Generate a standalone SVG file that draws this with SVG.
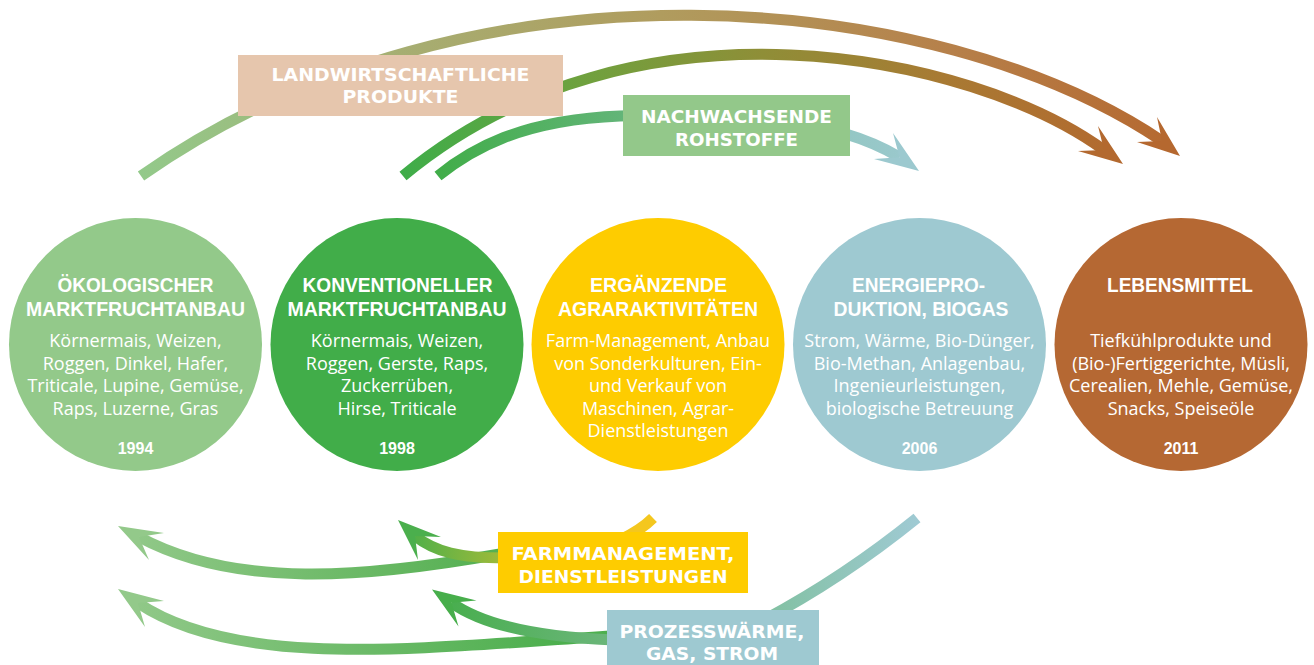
<svg xmlns="http://www.w3.org/2000/svg" width="1314" height="665" viewBox="0 0 1314 665">
<defs>
<style>
.title{font-family:"Liberation Sans",Arial,sans-serif;font-weight:bold;font-size:20.5px;fill:#fff;text-anchor:middle}
.body{font-family:"Open Sans","Noto Sans",sans-serif;font-size:18px;fill:#fff;text-anchor:middle}
.year{font-family:"Liberation Sans",Arial,sans-serif;font-weight:bold;font-size:16px;fill:#fff;text-anchor:middle}
.lbl{font-family:"DejaVu Sans",sans-serif;font-weight:bold;font-size:17.5px;fill:#fff;text-anchor:middle}
.arc{fill:none;stroke-width:11;stroke-linecap:butt}
</style>
<linearGradient id="g1" gradientUnits="userSpaceOnUse" x1="141" y1="0" x2="1180" y2="0">
<stop offset="0" stop-color="#93C98A"/><stop offset="0.25" stop-color="#A6AE72"/><stop offset="0.5" stop-color="#B09C5E"/><stop offset="0.78" stop-color="#B6804A"/><stop offset="1" stop-color="#B5682F"/>
</linearGradient>
<linearGradient id="g2" gradientUnits="userSpaceOnUse" x1="403" y1="0" x2="1123" y2="0">
<stop offset="0" stop-color="#3FAD49"/><stop offset="0.25" stop-color="#6FA13E"/><stop offset="0.5" stop-color="#8F8E37"/><stop offset="0.75" stop-color="#A87A33"/><stop offset="1" stop-color="#B3692F"/>
</linearGradient>
<linearGradient id="g3" gradientUnits="userSpaceOnUse" x1="438" y1="0" x2="919" y2="0">
<stop offset="0" stop-color="#41AD49"/><stop offset="0.4" stop-color="#64B57A"/><stop offset="0.85" stop-color="#94C7C4"/><stop offset="1" stop-color="#9CC9CF"/>
</linearGradient>
<linearGradient id="gA" gradientUnits="userSpaceOnUse" x1="118" y1="0" x2="490" y2="0">
<stop offset="0" stop-color="#93C98A"/><stop offset="1" stop-color="#55B052"/>
</linearGradient>
<linearGradient id="gB" gradientUnits="userSpaceOnUse" x1="400" y1="0" x2="500" y2="0">
<stop offset="0" stop-color="#46AE4B"/><stop offset="1" stop-color="#9DBA3A"/>
</linearGradient>
<linearGradient id="gC" gradientUnits="userSpaceOnUse" x1="118" y1="0" x2="560" y2="0">
<stop offset="0" stop-color="#93C98A"/><stop offset="1" stop-color="#4DAF4E"/>
</linearGradient>
<linearGradient id="gD" gradientUnits="userSpaceOnUse" x1="432" y1="0" x2="610" y2="0">
<stop offset="0" stop-color="#45AD4A"/><stop offset="1" stop-color="#6BB67A"/>
</linearGradient>
<linearGradient id="gT" gradientUnits="userSpaceOnUse" x1="760" y1="0" x2="917" y2="0">
<stop offset="0" stop-color="#80C09F"/><stop offset="1" stop-color="#9FCAD3"/>
</linearGradient>
</defs>
<rect width="1314" height="665" fill="#fff"/>

<g id="connectors">
<path class="arc" stroke="url(#g1)" d="M141,176 C471,-55 938,-10 1162,141"/>
<polygon fill="#B5682F" points="1180,156 1157,117 1162,141 1137,142"/>
<path class="arc" stroke="url(#g2)" d="M403,176 C634,-16 972,54 1104,150"/>
<polygon fill="#B3692F" points="1123,164 1098,126 1104,150 1078,151"/>
<path class="arc" stroke="url(#g3)" d="M438,176 C470,150 520,120 620,116 C720,112 830,115 899.5,157.25"/>
<polygon fill="#9CC9CF" points="919,171 893,133 899.5,157.25 874,159"/>

<path class="arc" stroke="#F4C71E" d="M653,518 C645,526 635,533 620,540"/>
<path class="arc" stroke="url(#gA)" d="M500,554 C365,578 236,589 139,537"/>
<polygon fill="#93C98A" points="118,526 164,533 139,537 149,560"/>
<path class="arc" stroke="url(#gB)" d="M505,558 C460,558 435,552 415,536"/>
<polygon fill="#4BAF4D" points="398,520 441,537 415,536 418,560"/>

<path class="arc" stroke="url(#gT)" d="M917,518 C880,548 830,585 760,622"/>
<path class="arc" stroke="url(#gC)" d="M612,636 C420,648 238,670 138,603"/>
<polygon fill="#93C98A" points="118,589 164,601 138,603 145,627"/>
<path class="arc" stroke="url(#gD)" d="M615,640 C560,638 490,630 451.5,602.7"/>
<polygon fill="#47AE4B" points="432,589.5 476.5,600.5 451.5,602.7 458.5,626.5"/>

<g id="label-landwirtschaftliche">
<rect x="238" y="55" width="325" height="61" fill="#E6C6AD"/>
<text class="lbl" x="400.5" y="81" textLength="258" lengthAdjust="spacingAndGlyphs">LANDWIRTSCHAFTLICHE</text>
<text class="lbl" x="400.5" y="103" textLength="116" lengthAdjust="spacingAndGlyphs">PRODUKTE</text>
</g>
<g id="label-nachwachsende">
<rect x="623" y="95" width="227" height="61" fill="#93C88A"/>
<text class="lbl" x="736.5" y="123" textLength="191" lengthAdjust="spacingAndGlyphs">NACHWACHSENDE</text>
<text class="lbl" x="736.5" y="146" textLength="123" lengthAdjust="spacingAndGlyphs">ROHSTOFFE</text>
</g>
<g id="label-farmmanagement">
<rect x="498" y="532" width="250" height="61" fill="#FECC00"/>
<text class="lbl" x="623" y="560" textLength="223" lengthAdjust="spacingAndGlyphs">FARMMANAGEMENT,</text>
<text class="lbl" x="623" y="583" textLength="209" lengthAdjust="spacingAndGlyphs">DIENSTLEISTUNGEN</text>
</g>
<g id="label-prozesswaerme">
<rect x="607" y="610" width="212" height="55" fill="#9EC9D1"/>
<text class="lbl" x="712" y="638" textLength="185" lengthAdjust="spacingAndGlyphs">PROZESSWÄRME,</text>
<text class="lbl" x="712" y="660" textLength="132" lengthAdjust="spacingAndGlyphs">GAS, STROM</text>
</g>
</g>

<g id="node-oekologisch">
<circle cx="135.5" cy="344.5" r="126.5" fill="#93C98A"/>
<text class="title" x="135.5" y="292" textLength="156" lengthAdjust="spacingAndGlyphs">ÖKOLOGISCHER</text>
<text class="title" x="135.5" y="315.5" textLength="219" lengthAdjust="spacingAndGlyphs">MARKTFRUCHTANBAU</text>
<text class="body" x="135.5" y="347">Körnermais, Weizen,</text>
<text class="body" x="135.5" y="369.5">Roggen, Dinkel, Hafer,</text>
<text class="body" x="135.5" y="392">Triticale, Lupine, Gemüse,</text>
<text class="body" x="135.5" y="414.5">Raps, Luzerne, Gras</text>
<text class="year" x="135.5" y="454">1994</text>
</g>
<g id="node-konventionell">
<circle cx="397" cy="344.5" r="126.5" fill="#41AD49"/>
<text class="title" x="397.5" y="292" textLength="190" lengthAdjust="spacingAndGlyphs">KONVENTIONELLER</text>
<text class="title" x="397" y="315.5" textLength="219" lengthAdjust="spacingAndGlyphs">MARKTFRUCHTANBAU</text>
<text class="body" x="397" y="347">Körnermais, Weizen,</text>
<text class="body" x="397" y="369.5">Roggen, Gerste, Raps,</text>
<text class="body" x="397" y="392">Zuckerrüben,</text>
<text class="body" x="397" y="414.5">Hirse, Triticale</text>
<text class="year" x="397" y="454">1998</text>
</g>
<g id="node-ergaenzend">
<circle cx="658" cy="344.5" r="126.5" fill="#FECC00"/>
<text class="title" x="658.5" y="292" textLength="137" lengthAdjust="spacingAndGlyphs">ERGÄNZENDE</text>
<text class="title" x="658" y="315.5" textLength="200" lengthAdjust="spacingAndGlyphs">AGRARAKTIVITÄTEN</text>
<text class="body" x="658" y="347">Farm-Management, Anbau</text>
<text class="body" x="658" y="369.5">von Sonderkulturen, Ein-</text>
<text class="body" x="658" y="392">und Verkauf von</text>
<text class="body" x="658" y="414.5">Maschinen, Agrar-</text>
<text class="body" x="658" y="437">Dienstleistungen</text>
</g>
<g id="node-energie">
<circle cx="919.5" cy="344.5" r="126.5" fill="#9EC9D1"/>
<text class="title" x="918.5" y="292" textLength="133" lengthAdjust="spacingAndGlyphs">ENERGIEPRO-</text>
<text class="title" x="921" y="315.5" textLength="175" lengthAdjust="spacingAndGlyphs">DUKTION, BIOGAS</text>
<text class="body" x="919.5" y="347">Strom, Wärme, Bio-Dünger,</text>
<text class="body" x="919.5" y="369.5">Bio-Methan, Anlagenbau,</text>
<text class="body" x="919.5" y="392">Ingenieurleistungen,</text>
<text class="body" x="919.5" y="414.5">biologische Betreuung</text>
<text class="year" x="919.5" y="454">2006</text>
</g>
<g id="node-lebensmittel">
<circle cx="1181" cy="344.5" r="126.5" fill="#B56833"/>
<text class="title" x="1180" y="292" textLength="146" lengthAdjust="spacingAndGlyphs">LEBENSMITTEL</text>
<text class="body" x="1181" y="347">Tiefkühlprodukte und</text>
<text class="body" x="1181" y="369.5">(Bio-)Fertiggerichte, Müsli,</text>
<text class="body" x="1181" y="392">Cerealien, Mehle, Gemüse,</text>
<text class="body" x="1181" y="414.5">Snacks, Speiseöle</text>
<text class="year" x="1181" y="454">2011</text>
</g>
</svg>
